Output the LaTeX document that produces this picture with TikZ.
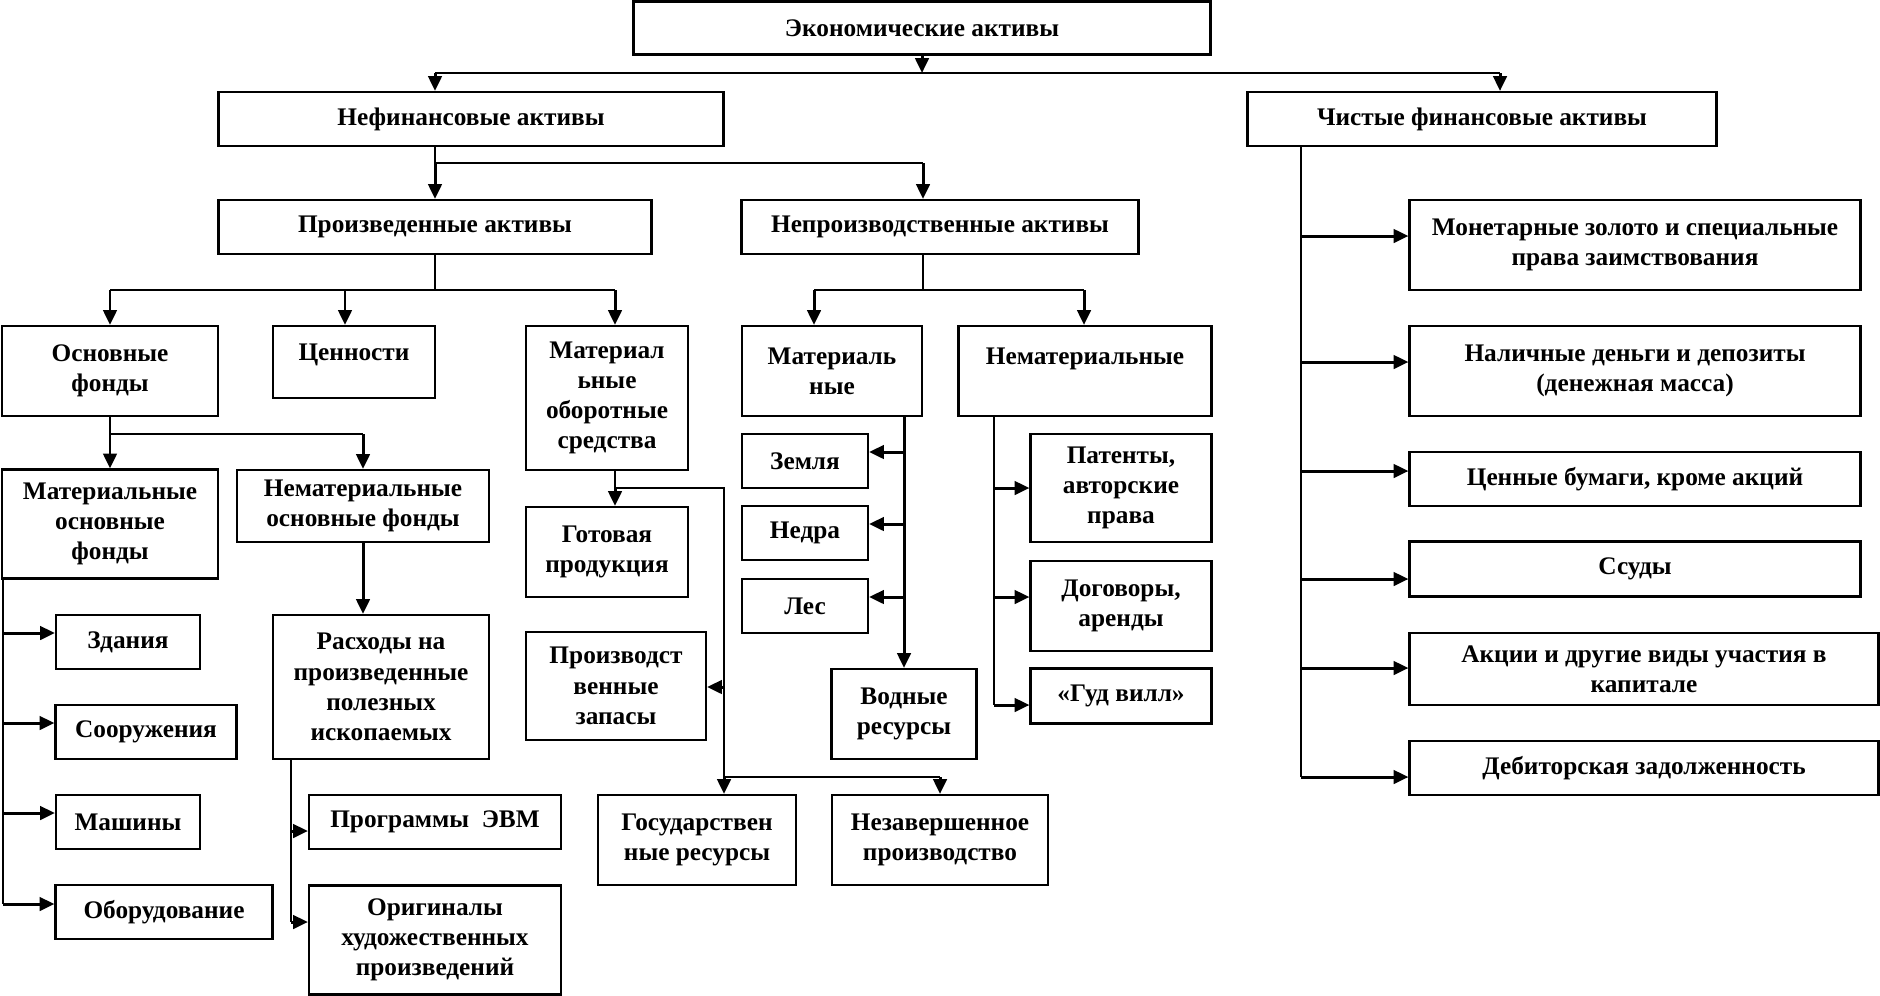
\documentclass[tikz,border=0pt]{standalone}
\usepackage{fontspec}
\setmainfont{Liberation Serif}
\usetikzlibrary{arrows.meta}

\begin{document}
\begin{tikzpicture}[
    box/.style 2 args={draw, line width=0.6pt, align=center, inner sep=1pt,
        minimum width=#1cm, minimum height=#2cm,
        font=\fontsize{7.2}{8.6}\selectfont\bfseries},
    line/.style={line width=0.6pt},
    edge/.style={line width=0.85pt, -{Triangle[length=4.2pt,width=3.8pt]}}
]
\useasboundingbox (0,0) rectangle (18.8,-9.95);

\node[box={5.77}{0.53}] (econ) at (9.22,-0.28) {Экономические активы};
\node[box={5.05}{0.54}] (nonfin) at (4.71,-1.19) {Нефинансовые активы};
\node[box={4.69}{0.54}] (netfin) at (14.82,-1.19) {Чистые финансовые активы};
\node[box={4.33}{0.54}] (prod) at (4.35,-2.27) {Произведенные активы};
\node[box={3.97}{0.54}] (nonprod) at (9.40,-2.27) {Непроизводственные активы};

\node[box={2.16}{0.90}] (fixed) at (1.10,-3.71) {Основные\\фонды};
\node[box={1.62}{0.72}] (valuab) at (3.54,-3.62) {Ценности\\[-3pt]~};
\node[box={1.62}{1.44}] (invent) at (6.07,-3.98) {Материал\\ьные\\оборотные\\средства};
\node[box={1.80}{0.90}] (natmat) at (8.32,-3.71) {Материаль\\ные};
\node[box={2.53}{0.90}] (natimm) at (10.85,-3.71) {Нематериальные\\~};

\node[box={2.16}{1.09}] (tang) at (1.10,-5.24) {Материальные\\основные\\фонды};
\node[box={2.52}{0.72}] (intang) at (3.63,-5.06) {Нематериальные\\основные фонды};
\node[box={1.44}{0.54}] (build) at (1.28,-6.42) {Здания};
\node[box={1.81}{0.54}] (struct) at (1.46,-7.32) {Сооружения};
\node[box={1.44}{0.54}] (mach) at (1.28,-8.22) {Машины};
\node[box={2.17}{0.54}] (equip) at (1.64,-9.12) {Оборудование};
\node[box={2.16}{1.44}] (mineral) at (3.81,-6.87) {Расходы на\\произведенные\\полезных\\ископаемых};
\node[box={2.52}{0.54}] (soft) at (4.35,-8.22) {Программы~~ЭВМ};
\node[box={2.52}{1.09}] (art) at (4.35,-9.40) {Оригиналы\\художественных\\произведений};

\node[box={1.62}{0.90}] (goods) at (6.07,-5.52) {Готовая\\продукция};
\node[box={1.80}{1.08}] (stock) at (6.16,-6.86) {Производст\\венные\\запасы};
\node[box={1.98}{0.90}] (state) at (6.97,-8.40) {Государствен\\ные ресурсы};
\node[box={2.16}{0.90}] (wip) at (9.40,-8.40) {Незавершенное\\производство};

\node[box={1.26}{0.54}] (land) at (8.05,-4.61) {Земля};
\node[box={1.26}{0.54}] (subsoil) at (8.05,-5.33) {Недра};
\node[box={1.26}{0.54}] (forest) at (8.05,-6.06) {Лес};
\node[box={1.45}{0.90}] (water) at (9.04,-7.14) {Водные\\ресурсы};
\node[box={1.81}{1.08}] (patent) at (11.21,-4.88) {Патенты,\\авторские\\права};
\node[box={1.81}{0.90}] (lease) at (11.21,-6.06) {Договоры,\\аренды};
\node[box={1.81}{0.55}] (goodwill) at (11.21,-6.96) {«Гуд вилл»};

\node[box={4.51}{0.90}] (gold) at (16.35,-2.45) {Монетарные золото и специальные\\права заимствования};
\node[box={4.51}{0.90}] (cash) at (16.35,-3.71) {Наличные деньги и депозиты\\(денежная масса)};
\node[box={4.51}{0.54}] (secur) at (16.35,-4.79) {Ценные бумаги, кроме акций};
\node[box={4.51}{0.55}] (loans) at (16.35,-5.69) {Ссуды};
\node[box={4.69}{0.72}] (shares) at (16.44,-6.69) {Акции и другие виды участия в\\капитале};
\node[box={4.69}{0.54}] (recv) at (16.44,-7.68) {Дебиторская задолженность};

\coordinate (b1l) at (4.35,-0.73);
\coordinate (b1r) at (15.00,-0.73);
\draw[edge] (econ) -- (econ |- b1l);
\draw[line] (b1l) -- (b1r);
\draw[edge] (b1l) -- (b1l |- nonfin.north);
\draw[edge] (b1r) -- (b1r |- netfin.north);

\coordinate (b2l) at (4.35,-1.63);
\coordinate (b2r) at (9.23,-1.63);
\draw[line] (b2l |- nonfin.south) -- (b2l) -- (b2r);
\draw[edge] (b2l) -- (b2l |- prod.north);
\draw[edge] (b2r) -- (b2r |- nonprod.north);

\coordinate (b3a) at (1.10,-2.90);
\coordinate (b3b) at (3.45,-2.90);
\coordinate (b3c) at (6.15,-2.90);
\draw[line] (b2l |- prod.south) -- (b2l |- b3a);
\draw[line] (b3a) -- (b3c);
\draw[edge] (b3a) -- (b3a |- fixed.north);
\draw[edge] (b3b) -- (b3b |- valuab.north);
\draw[edge] (b3c) -- (b3c |- invent.north);

\coordinate (b3d) at (8.14,-2.90);
\coordinate (b3e) at (10.84,-2.90);
\draw[line] (b2r |- nonprod.south) -- (b2r |- b3d);
\draw[line] (b3d) -- (b3e);
\draw[edge] (b3d) -- (b3d |- natmat.north);
\draw[edge] (b3e) -- (b3e |- natimm.north);

\coordinate (b4a) at (1.10,-4.34);
\coordinate (b4b) at (3.63,-4.34);
\draw[line] (fixed) -- (b4a) -- (b4b);
\draw[edge] (b4a) -- (tang);
\draw[edge] (b4b) -- (intang);
\draw[edge] (intang) -- (intang |- mineral.north);

\coordinate (m1) at (0.03,-6.33);
\coordinate (m2) at (0.03,-7.23);
\coordinate (m3) at (0.03,-8.13);
\coordinate (m4) at (0.03,-9.04);
\draw[line] (m1 |- tang.south) -- (m4);
\draw[edge] (m1) -- (m1 -| build.west);
\draw[edge] (m2) -- (m2 -| struct.west);
\draw[edge] (m3) -- (m3 -| mach.west);
\draw[edge] (m4) -- (m4 -| equip.west);

\coordinate (r1) at (2.91,-8.31);
\coordinate (r2) at (2.91,-9.22);
\draw[line] (r1 |- mineral.south) -- (r2);
\draw[edge] (r1) -- (r1 -| soft.west);
\draw[edge] (r2) -- (r2 -| art.west);

\coordinate (v1) at (6.15,-4.88);
\coordinate (v2) at (7.24,-4.88);
\coordinate (v3) at (7.24,-6.87);
\coordinate (v4) at (7.24,-7.77);
\coordinate (v5) at (9.40,-7.77);
\draw[line] (v1 |- invent.south) -- (v1) -- (v2) -- (v4) -- (v5);
\draw[edge] (v1) -- (v1 |- goods.north);
\draw[edge] (v3) -- (v3 -| stock.east);
\draw[edge] (v4) -- (v4 |- state.north);
\draw[edge] (v5) -- (v5 |- wip.north);

\coordinate (n1) at (9.04,-4.52);
\coordinate (n2) at (9.04,-5.24);
\coordinate (n3) at (9.04,-5.97);
\draw[edge] (n1 |- natmat.south) -- (n1 |- water.north);
\draw[edge] (n1) -- (n1 -| land.east);
\draw[edge] (n2) -- (n2 -| subsoil.east);
\draw[edge] (n3) -- (n3 -| forest.east);

\coordinate (k1) at (9.94,-4.88);
\coordinate (k2) at (9.94,-5.97);
\coordinate (k3) at (9.94,-7.05);
\draw[line] (k1 |- natimm.south) -- (k3);
\draw[edge] (k1) -- (k1 -| patent.west);
\draw[edge] (k2) -- (k2 -| lease.west);
\draw[edge] (k3) -- (k3 -| goodwill.west);

\coordinate (f1) at (13.01,-2.36);
\coordinate (f2) at (13.01,-3.62);
\coordinate (f3) at (13.01,-4.71);
\coordinate (f4) at (13.01,-5.79);
\coordinate (f5) at (13.01,-6.68);
\coordinate (f6) at (13.01,-7.77);
\draw[line] (f1 |- netfin.south) -- (f6);
\draw[edge] (f1) -- (f1 -| gold.west);
\draw[edge] (f2) -- (f2 -| cash.west);
\draw[edge] (f3) -- (f3 -| secur.west);
\draw[edge] (f4) -- (f4 -| loans.west);
\draw[edge] (f5) -- (f5 -| shares.west);
\draw[edge] (f6) -- (f6 -| recv.west);
\end{tikzpicture}
\end{document}
